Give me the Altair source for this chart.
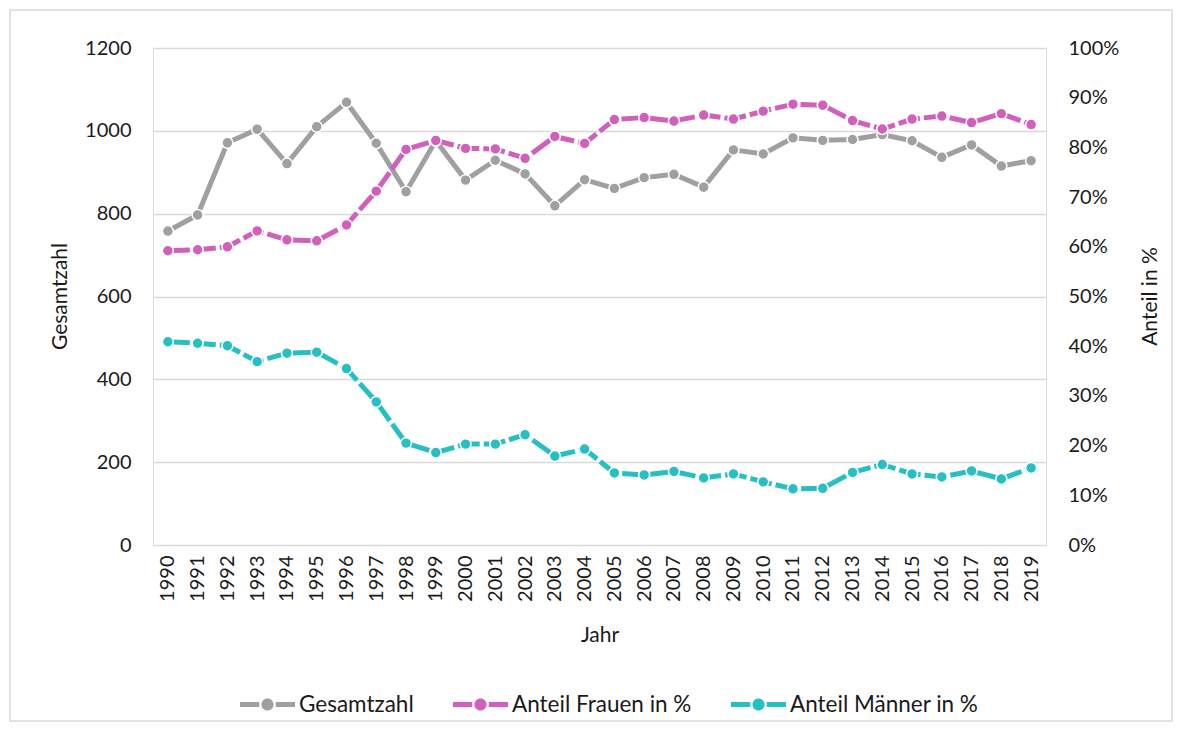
import altair as alt
import pandas as pd

years = list(range(1990, 2020))
gesamtzahl = [758, 797, 971, 1004, 921, 1010, 1069, 970, 853, 976,
              881, 929, 896, 819, 882, 861, 887, 895, 864, 954,
              944, 983, 977, 979, 991, 976, 936, 966, 915, 928]
frauen_pct = [59.2, 59.4, 60.0, 63.2, 61.4, 61.2, 64.4, 71.2, 79.6, 81.4,
              79.8, 79.7, 77.8, 82.2, 80.8, 85.6, 86.0, 85.3, 86.5, 85.7,
              87.3, 88.7, 88.5, 85.4, 83.7, 85.7, 86.3, 85.0, 86.8, 84.6]
maenner_pct = [40.9, 40.6, 40.1, 36.9, 38.6, 38.8, 35.5, 28.8, 20.5, 18.6,
               20.3, 20.3, 22.2, 17.9, 19.3, 14.5, 14.1, 14.8, 13.5, 14.3,
               12.7, 11.3, 11.4, 14.6, 16.2, 14.3, 13.7, 14.9, 13.3, 15.5]

series_names = ["Gesamtzahl", "Anteil Frauen in %", "Anteil Männer in %"]
series_colors = ["#A0A0A0", "#D160BA", "#27C0C2"]

rows = []
for i, y in enumerate(years):
    rows.append({"Jahr": str(y), "Serie": series_names[0], "Wert": gesamtzahl[i]})
    rows.append({"Jahr": str(y), "Serie": series_names[1], "Wert": frauen_pct[i] / 100})
    rows.append({"Jahr": str(y), "Serie": series_names[2], "Wert": maenner_pct[i] / 100})
df = pd.DataFrame(rows)

FONT = "Lato"
TXT = "#1a1a1a"

x_enc = alt.X("Jahr:O", sort=[str(y) for y in years],
              scale=alt.Scale(padding=0.5),
              axis=alt.Axis(labelAngle=-90, labelAlign="right", labelBaseline="middle",
                            labelPadding=10, domain=False, ticks=False, grid=False,
                            labelFontSize=20, labelColor=TXT, labelFont=FONT,
                            title="Jahr", titleFontSize=21, titleFontWeight="normal",
                            titleColor=TXT, titleFont=FONT,
                            titleY=90, titleBaseline="middle"))

color_scale = alt.Scale(domain=series_names, range=series_colors)

legend_path = ("M-1,-0.09H-0.3V0.09H-1Z M0.3,-0.09H1V0.09H0.3Z "
               "M-0.22,0A0.22,0.22 0 1,0 0.22,0A0.22,0.22 0 1,0 -0.22,0Z")

color_leg = alt.Color("Serie:N", scale=color_scale, sort=series_names,
                      legend=alt.Legend(title=None, orient="none", direction="horizontal",
                                        legendX=87, legendY=629,
                                        symbolType=legend_path, symbolSize=3025,
                                        symbolStrokeWidth=0, symbolOpacity=1,
                                        labelFontSize=22.5, labelFont=FONT, labelColor=TXT,
                                        labelLimit=0, labelOffset=4, columnPadding=39))

y_left = alt.Y("Wert:Q", scale=alt.Scale(domain=[0, 1200]),
               axis=alt.Axis(values=[0, 200, 400, 600, 800, 1000, 1200], format="d",
                             grid=True, gridColor="#d9d9d9", gridWidth=1.5,
                             domain=False, ticks=False,
                             labelPadding=22, labelFontSize=20, labelColor=TXT, labelFont=FONT,
                             title="Gesamtzahl", titleFontSize=21, titleFontWeight="normal",
                             titleColor=TXT, titleFont=FONT, titleAngle=-90,
                             titleX=-93, titleY=248, titleAlign="center",
                             titleBaseline="middle"))
y_right = alt.Y("Wert:Q", scale=alt.Scale(domain=[0, 1]),
                axis=alt.Axis(orient="right", format=".0%",
                              values=[0, 0.1, 0.2, 0.3, 0.4, 0.5, 0.6, 0.7, 0.8, 0.9, 1.0],
                              grid=False, domain=False, ticks=False,
                              labelPadding=22, labelFontSize=20, labelColor=TXT, labelFont=FONT,
                              title="Anteil in %", titleFontSize=21, titleFontWeight="normal",
                              titleColor=TXT, titleFont=FONT, titleAngle=-90,
                              titleX=104, titleY=248, titleAlign="center",
                              titleBaseline="middle"))

base = alt.Chart(df)

left_df = base.transform_filter(alt.datum.Serie == series_names[0])
left_line = left_df.mark_line(strokeWidth=5, color=series_colors[0]).encode(x=x_enc, y=y_left)
left_pts = left_df.mark_point(filled=True, size=120, opacity=1, stroke="white",
                              strokeWidth=1.5).encode(x=x_enc, y=y_left, color=color_leg)
left = alt.layer(left_line, left_pts)

fr_df = base.transform_filter(alt.datum.Serie == series_names[1])
ma_df = base.transform_filter(alt.datum.Serie == series_names[2])
fr_line = fr_df.mark_line(strokeWidth=5, strokeDash=[22, 4], color=series_colors[1]).encode(
    x=x_enc, y=y_right)
ma_line = ma_df.mark_line(strokeWidth=5, strokeDash=[22, 4], color=series_colors[2]).encode(
    x=x_enc, y=y_right)
right_df = base.transform_filter(alt.datum.Serie != series_names[0])
right_pts = right_df.mark_point(filled=True, size=120, opacity=1, stroke="white",
                               strokeWidth=1.5).encode(x=x_enc, y=y_right, color=color_leg)
right = alt.layer(fr_line, ma_line, right_pts)

frame = alt.Chart(pd.DataFrame({"f": [0]})).mark_rect(
    filled=False, stroke="#d9d9d9", strokeWidth=1.5).encode(
    x=alt.value(-143), x2=alt.value(1019), y=alt.value(-38), y2=alt.value(673))

chart = alt.layer(frame, left, right).resolve_scale(y="independent").properties(
    width=893, height=497,
    autosize=alt.AutoSizeParams(type="none"),
    padding={"left": 145, "top": 40, "right": 128, "bottom": 178},
).configure_view(stroke=None).configure(background="white")

chart.save("out.html", embed_options={"renderer": "svg", "actions": False})
